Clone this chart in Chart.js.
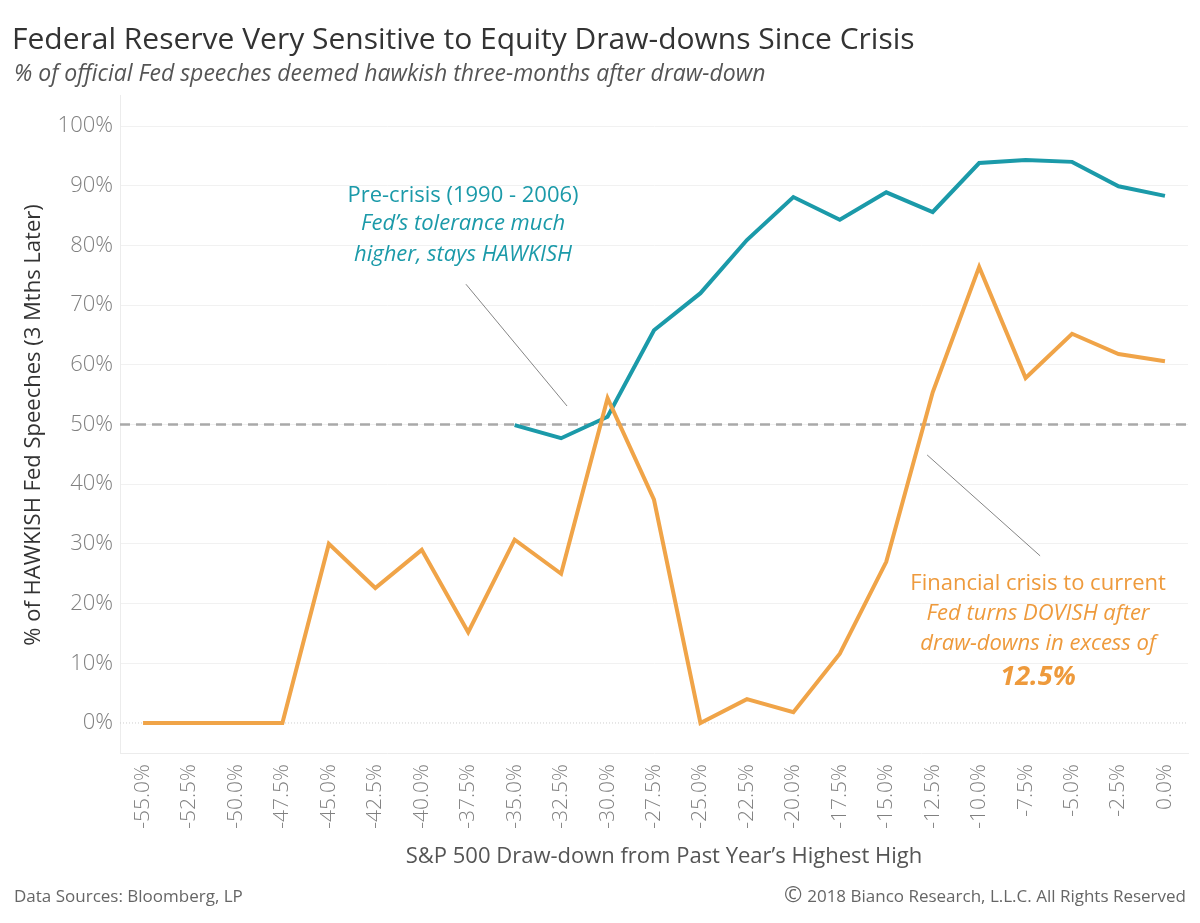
<!DOCTYPE html>
<html>
<head>
<meta charset="utf-8">
<script src="https://cdn.jsdelivr.net/npm/chart.js@4.4.1/dist/chart.umd.min.js"></script>
<style>
  body { margin: 0; background: #fff; }
  canvas { display: block; }
</style>
</head>
<body>
<canvas id="fedChart" width="1200" height="923"></canvas>
<script>
// S&P 500 draw-down buckets (x axis)
const drawdowns = [-55, -52.5, -50, -47.5, -45, -42.5, -40, -37.5, -35, -32.5, -30, -27.5,
  -25, -22.5, -20, -17.5, -15, -12.5, -10, -7.5, -5, -2.5, 0];

// % hawkish speeches, financial crisis to current
const postCrisis = [0, 0, 0, 0, 30.0, 22.6, 29.0, 15.2, 30.7, 25.0, 54.4, 37.4,
  0, 4.0, 1.8, 11.6, 27.0, 55.4, 76.4, 57.8, 65.2, 61.8, 60.6];

// % hawkish speeches, pre-crisis (1990 - 2006)
const preCrisis = [null, null, null, null, null, null, null, null, 49.9, 47.7, 51.3, 65.8,
  72.0, 80.9, 88.1, 84.3, 88.9, 85.6, 93.8, 94.3, 94.0, 89.9, 88.3];

const yTicks = [0, 10, 20, 30, 40, 50, 60, 70, 80, 90, 100];

const TEAL = "#1b9aa9";
const ORANGE = "#f0a448";
const FONT = "'Open Sans', sans-serif";

const toPoints = (vals) => drawdowns.map((x, i) => ({ x: x, y: vals[i] }));

// titles, axis titles, reference lines and notes
const extras = {
  id: "extras",
  beforeDatasetsDraw(chart) {
    const { ctx, chartArea, scales } = chart;
    const y50 = scales.y.getPixelForValue(50);
    const y0 = scales.y.getPixelForValue(0);
    ctx.save();
    ctx.strokeStyle = "#cfcfcf";
    ctx.lineWidth = 1;
    ctx.setLineDash([1, 2]);
    ctx.beginPath();
    ctx.moveTo(chartArea.left, y0);
    ctx.lineTo(chartArea.right, y0);
    ctx.stroke();
    ctx.strokeStyle = "#a9a9a9";
    ctx.lineWidth = 2.5;
    ctx.setLineDash([10, 6]);
    ctx.beginPath();
    ctx.moveTo(chartArea.left, y50);
    ctx.lineTo(chartArea.right, y50);
    ctx.stroke();
    ctx.restore();
  },
  afterDraw(chart) {
    const { ctx, scales } = chart;
    const px = (v) => scales.x.getPixelForValue(v);
    const py = (v) => scales.y.getPixelForValue(v);
    ctx.save();
    ctx.textBaseline = "middle";

    ctx.fillStyle = "#333";
    ctx.textAlign = "left";
    ctx.font = "30px " + FONT;
    ctx.fillText("Federal Reserve Very Sensitive to Equity Draw-downs Since Crisis", 12, 40);
    ctx.fillStyle = "#555";
    ctx.font = "italic 23px " + FONT;
    ctx.fillText("% of official Fed speeches deemed hawkish three-months after draw-down", 14, 74);

    ctx.fillStyle = "#666";
    ctx.font = "17px " + FONT;
    ctx.fillText("Data Sources: Bloomberg, LP", 14, 897);
    ctx.textAlign = "right";
    ctx.fillText("2018 Bianco Research, L.L.C. All Rights Reserved", 1186, 897);
    const w = ctx.measureText("2018 Bianco Research, L.L.C. All Rights Reserved").width;
    ctx.font = "22px " + FONT;
    ctx.fillText("\u00A9", 1186 - w - 5, 896);

    ctx.textAlign = "center";
    ctx.fillStyle = "#555";
    ctx.font = "22px " + FONT;
    ctx.fillText("S&P 500 Draw-down from Past Year\u2019s Highest High", 664, 857);

    ctx.save();
    ctx.translate(34, 425);
    ctx.rotate(-Math.PI / 2);
    ctx.fillStyle = "#333";
    ctx.font = "22px " + FONT;
    ctx.fillText("% of HAWKISH Fed Speeches (3 Mths Later)", 0, 0);
    ctx.restore();

    // leader lines
    ctx.strokeStyle = "#666";
    ctx.lineWidth = 0.8;
    ctx.beginPath();
    ctx.moveTo(px(-37.62), py(73.5));
    ctx.lineTo(px(-32.18), py(53.1));
    ctx.moveTo(px(-12.80), py(44.9));
    ctx.lineTo(px(-6.72), py(28.0));
    ctx.stroke();

    // pre-crisis note
    ctx.fillStyle = TEAL;
    ctx.font = "22px " + FONT;
    ctx.fillText("Pre-crisis (1990 - 2006)", px(-37.78), py(88.4));
    ctx.font = "italic 22px " + FONT;
    ctx.fillText("Fed\u2019s tolerance much", px(-37.78), py(83.6));
    ctx.fillText("higher, stays HAWKISH", px(-37.78), py(78.4));

    // post-crisis note
    ctx.fillStyle = "#ee9a3c";
    ctx.font = "22px " + FONT;
    ctx.fillText("Financial crisis to current", px(-6.83), py(23.3));
    ctx.font = "italic 22px " + FONT;
    ctx.fillText("Fed turns DOVISH after", px(-6.83), py(18.3));
    ctx.fillText("draw-downs in excess of", px(-6.83), py(13.2));
    ctx.font = "italic bold 27px " + FONT;
    ctx.fillText("12.5%", px(-6.83), py(7.7));
    ctx.restore();
  }
};

new Chart(document.getElementById("fedChart").getContext("2d"), {
  type: "line",
  data: {
    datasets: [
      {
        label: "Financial crisis to current",
        data: toPoints(postCrisis),
        borderColor: ORANGE,
        borderWidth: 4,
        pointRadius: 0,
        tension: 0
      },
      {
        label: "Pre-crisis (1990 - 2006)",
        data: toPoints(preCrisis),
        borderColor: TEAL,
        borderWidth: 4,
        pointRadius: 0,
        tension: 0
      }
    ]
  },
  options: {
    responsive: false,
    animation: false,
    layout: { padding: { top: 95, left: 0, right: 12, bottom: 0 } },
    plugins: { legend: { display: false }, tooltip: { enabled: false } },
    scales: {
      x: {
        type: "linear",
        min: -56.24,
        max: 1.24,
        afterBuildTicks: (scale) => { scale.ticks = drawdowns.map((v) => ({ value: v })); },
        afterFit: (scale) => { scale.height = 170; },
        grid: { display: false },
        border: { color: "#ececec" },
        ticks: {
          autoSkip: false,
          minRotation: 90,
          maxRotation: 90,
          padding: 3,
          color: "#808080",
          font: { family: "'Open Sans'", size: 21, weight: "300" },
          callback: (v) => v.toFixed(1) + "%"
        }
      },
      y: {
        min: -5.03,
        max: 105.2,
        afterBuildTicks: (scale) => { scale.ticks = yTicks.map((v) => ({ value: v })); },
        afterFit: (scale) => { scale.width = 120; },
        grid: {
          color: (c) => (c.tick && c.tick.value === 0 ? "rgba(0,0,0,0)" : "#f1f1f1"),
          drawTicks: false
        },
        border: { color: "#ececec" },
        ticks: {
          padding: 7,
          color: "#808080",
          font: { family: "'Open Sans'", size: 22, weight: "300" },
          callback: (v) => v + "%"
        }
      }
    }
  },
  plugins: [extras]
});
</script>
</body>
</html>
